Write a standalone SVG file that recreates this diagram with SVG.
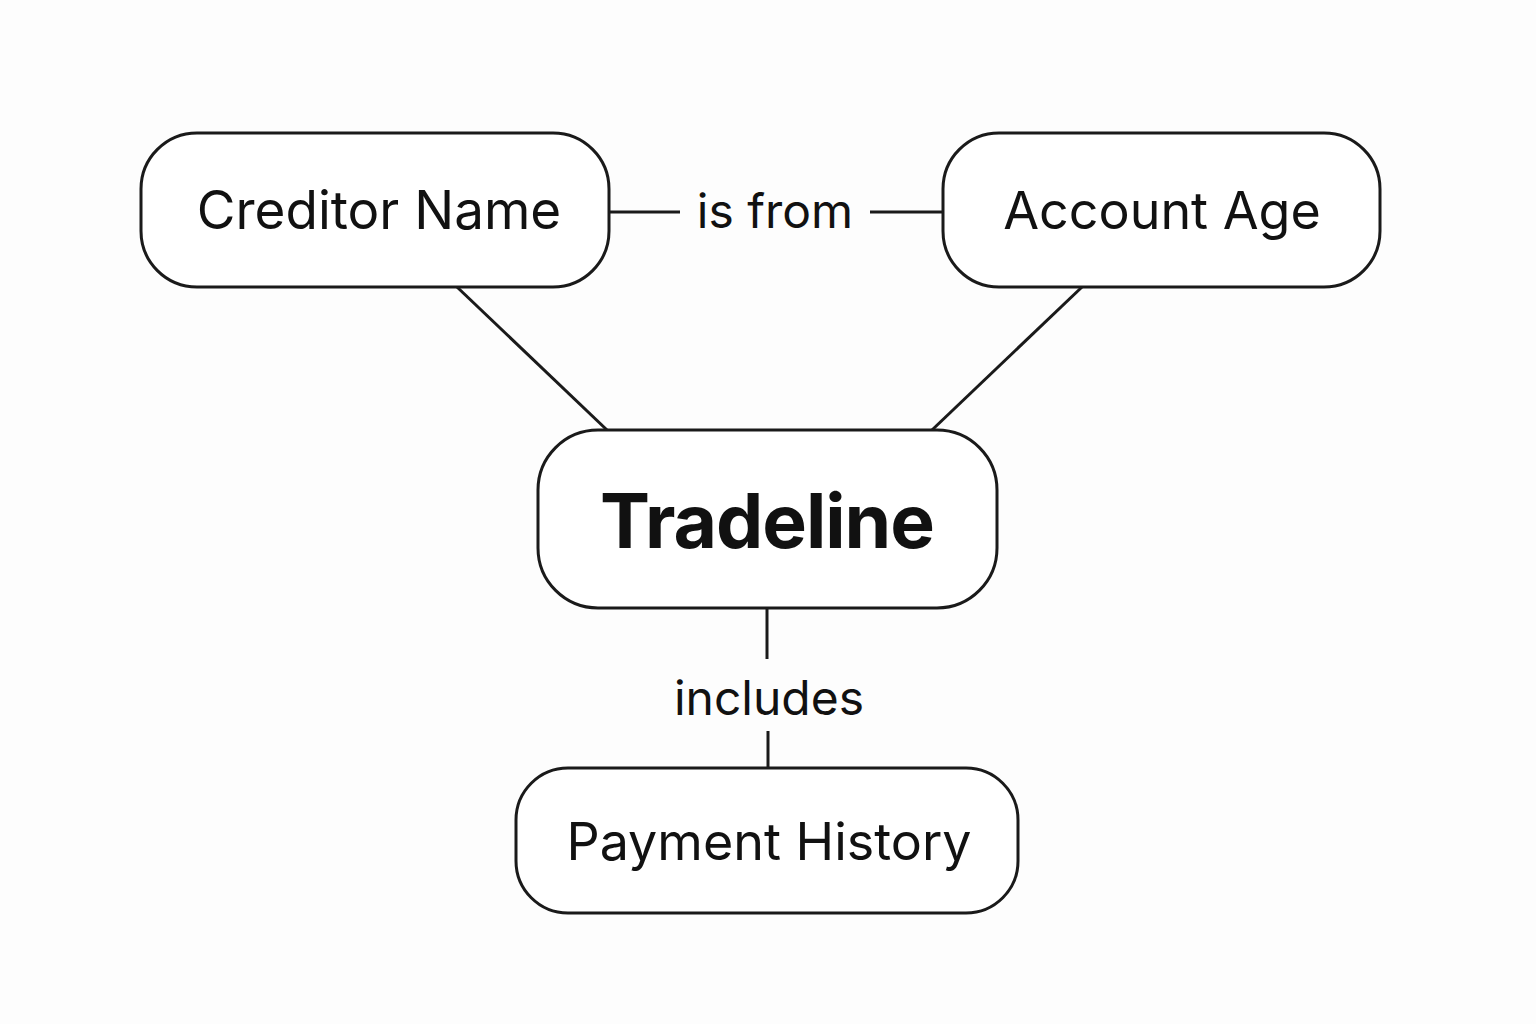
<svg xmlns="http://www.w3.org/2000/svg" width="1536" height="1024" viewBox="0 0 1536 1024">
<style>
.node{fill:#ffffff;stroke:#1a1a1a;stroke-width:3}
.edge{stroke:#1a1a1a;stroke-width:3;fill:none}
.t{font-family:Inter,"Liberation Sans",sans-serif;fill:#111111;text-anchor:middle}
.lbl{font-size:52px}
.big{font-size:75px;font-weight:700;letter-spacing:-1px}
.el{font-size:48px}
</style>
<rect width="1536" height="1024" fill="#fdfdfd"/>
<g id="connectors">
<line class="edge" x1="609" y1="212" x2="680" y2="212"/>
<line class="edge" x1="870" y1="212" x2="943" y2="212"/>
<text class="t el" x="775" y="228">is from</text>
<line class="edge" x1="457" y1="287" x2="607" y2="430"/>
<line class="edge" x1="1082" y1="287" x2="932" y2="430"/>
<line class="edge" x1="767" y1="608" x2="767" y2="659"/>
<text class="t el" x="769" y="715">includes</text>
<line class="edge" x1="768" y1="731" x2="768" y2="768"/>
</g>
<g id="creditor-name">
<rect class="node" x="141" y="133" width="468" height="154" rx="56"/>
<text class="t lbl" x="379" y="229" style="font-size:53px">Creditor Name</text>
</g>
<g id="account-age">
<rect class="node" x="943" y="133" width="437" height="154" rx="56"/>
<text class="t lbl" x="1162" y="229">Account Age</text>
</g>
<g id="tradeline">
<rect class="node" x="538" y="430" width="459" height="178" rx="60"/>
<text class="t big" x="767" y="548">Tradeline</text>
</g>
<g id="payment-history">
<rect class="node" x="516" y="768" width="502" height="145" rx="52"/>
<text class="t lbl" x="769" y="860">Payment History</text>
</g>
</svg>
